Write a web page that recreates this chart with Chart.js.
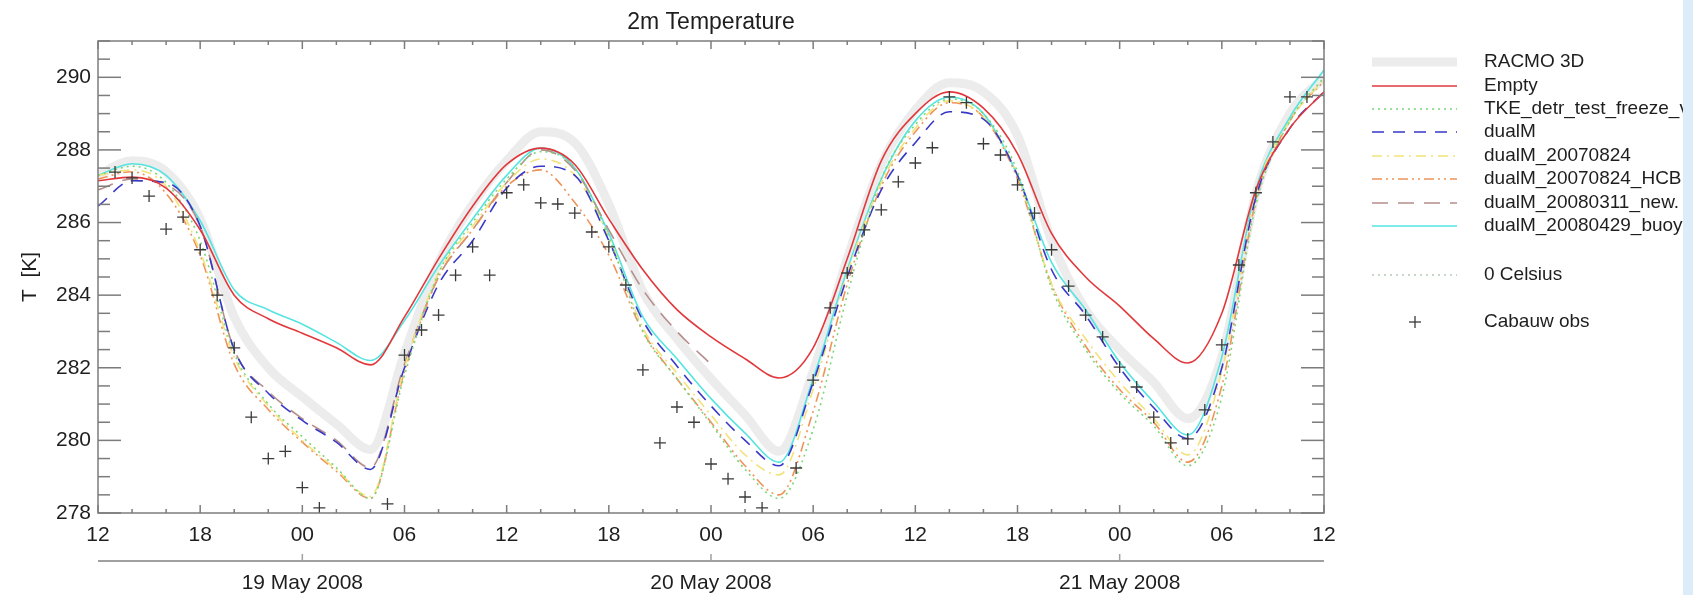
<!DOCTYPE html>
<html>
<head>
<meta charset="utf-8">
<title>2m Temperature</title>
<script src="https://cdn.jsdelivr.net/npm/chart.js@4.4.1/dist/chart.umd.min.js"></script>
<style>
  html, body { margin: 0; padding: 0; background: #fff; }
  #wrap { position: relative; width: 1693px; height: 595px; }
</style>
</head>
<body>
<div id="wrap"><canvas id="t2m"></canvas></div>
<script>
// ============================================================
// 2m temperature, Cabauw 18-21 May 2008 : runs vs observations
// ============================================================

// ── Time axis (hours since 18 May 12 UTC) ──
const hours = [0, 2, 4, 6, 8, 10, 12, 14, 16, 18, 20, 22, 24, 26, 28, 30, 32, 34, 36,
  38, 40, 42, 44, 46, 48, 50, 52, 54, 56, 58, 60, 62, 64, 66, 68, 70, 72];
const hourTicks = ['12', '18', '00', '06', '12', '18', '00', '06', '12', '18', '00', '06', '12'];
const dateHours = [12, 36, 60];
const dateLabels = ['19 May 2008', '20 May 2008', '21 May 2008'];

// ── Model runs, T2m [K] ──
const racmo3d = [287.3, 287.7, 287.4, 286.1, 283.4, 282.0, 281.2, 280.45, 279.75, 282.4, 284.9, 286.5,
  287.7, 288.5, 288.2, 286.5, 284.1, 282.8, 281.7, 280.7, 279.7, 281.9, 285.0, 287.6,
  289.1, 289.85, 289.6, 288.4, 285.5, 283.6, 282.5, 281.6, 280.6, 282.3, 286.8, 289.0, 290.0];
const empty = [287.15, 287.25, 286.95, 285.8, 284.0, 283.35, 282.95, 282.55, 282.08, 283.4, 285.0, 286.45,
  287.6, 288.05, 287.6, 286.1, 284.7, 283.6, 282.85, 282.25, 281.72, 282.55, 285.0, 287.7,
  289.0, 289.6, 289.15, 287.9, 285.7, 284.5, 283.7, 282.8, 282.13, 283.5, 286.9, 288.6, 289.6];
const tkeFreeze = [287.3, 287.55, 287.1, 285.5, 282.4, 281.0, 280.1, 279.25, 278.4, 281.8, 284.6, 286.0,
  287.2, 287.95, 287.5, 285.6, 283.0, 281.7, 280.45, 279.2, 278.4, 280.3, 284.0, 287.2,
  288.7, 289.4, 289.0, 287.4, 284.2, 282.5, 281.3, 280.4, 279.3, 281.2, 286.5, 288.8, 290.0];
const dualM = [286.45, 287.15, 287.1, 285.9, 282.5, 281.3, 280.55, 279.95, 279.2, 282.0, 284.3, 285.5,
  286.95, 287.55, 287.3, 285.5, 283.3, 282.05, 280.95, 280.0, 279.3, 281.6, 284.5, 286.9,
  288.2, 289.05, 288.85, 287.3, 284.7, 283.45, 282.0, 280.9, 280.05, 282.0, 286.7, 288.6, 289.6];
const dualM0824 = [287.3, 287.45, 287.0, 285.2, 282.3, 280.95, 280.0, 279.2, 278.45, 282.0, 284.6, 285.9,
  287.1, 287.75, 287.3, 285.6, 283.1, 281.85, 280.7, 279.6, 279.05, 281.4, 284.6, 287.1,
  288.6, 289.35, 288.9, 287.3, 284.3, 282.8, 281.6, 280.6, 279.6, 281.9, 286.8, 288.8, 289.95];
const dualM0824hcb = [287.2, 287.4, 286.8, 285.1, 282.1, 280.85, 279.95, 279.15, 278.4, 281.9, 284.5, 285.8,
  287.0, 287.45, 286.55, 285.1, 283.0, 281.7, 280.5, 279.3, 278.5, 280.8, 284.3, 287.0,
  288.5, 289.3, 288.9, 287.2, 284.3, 282.6, 281.4, 280.5, 279.4, 281.5, 286.6, 288.8, 289.9];
const dualM0311 = [286.9, 287.2, 287.05, 285.9, 282.5, 281.35, 280.6, 280.0, 279.25, 282.1, 284.5, 285.8,
  287.1, 288.0, 287.45, 285.8, 284.15, 283.0, 282.1, null, null, null, null, null,
  null, null, null, null, null, null, null, null, null, null, null, null, null];
const dualM0429 = [287.3, 287.62, 287.3, 286.05, 284.15, 283.6, 283.2, 282.7, 282.2, 283.3, 284.8, 286.1,
  287.3, 288.05, 287.5, 285.7, 283.4, 282.25, 281.15, 280.2, 279.4, 281.7, 284.7, 287.2,
  288.8, 289.45, 289.0, 287.3, 284.9, 283.6, 282.15, 281.05, 280.15, 282.3, 286.9, 288.9, 290.2];
const zeroCelsius = 273.15;

// ── Cabauw hourly observations ──
const obsHours = [1, 2, 3, 4, 5, 6, 7, 8, 9, 10, 11, 12, 13, 17, 18, 19, 20, 21, 22, 23, 24,
  25, 26, 27, 28, 29, 30, 31, 32, 33, 34, 35, 36, 37, 38, 39, 41, 42, 43, 44, 45, 46, 47, 48,
  49, 50, 51, 52, 53, 54, 55, 56, 57, 58, 59, 60, 61, 62, 63, 64, 65, 66, 67, 68, 69, 70, 71];
const obsTemp = [287.39, 287.23, 286.73, 285.82, 286.15, 285.25, 284.0, 282.55, 280.64, 279.5, 279.7, 278.7, 278.14,
  278.25, 282.35, 283.04, 283.45, 284.55, 285.33, 284.55, 286.82,
  287.04, 286.54, 286.51, 286.26, 285.74, 285.33, 284.28, 281.94, 279.93, 280.92, 280.5, 279.35, 278.94, 278.44, 278.14,
  279.24, 281.66, 283.65, 284.61, 285.8, 286.35, 287.12, 287.64,
  288.06, 289.46, 289.3, 288.17, 287.86, 287.04, 286.26, 285.25, 284.25, 283.45, 282.85, 282.02, 281.47, 280.64,
  279.93, 280.04, 280.84, 282.63, 284.83, 286.82, 288.22, 289.46, 289.46];

// ── Styles ──
const FONT = '"Liberation Sans", Arial, Helvetica, sans-serif';
const INK = '#1e1e1e';
const AXIS = '#7c7c7c';
Chart.defaults.font.family = FONT;

const runs = [
  { label: 'RACMO 3D', values: racmo3d, color: '#ececec', width: 9, dash: [], order: 9 },
  { label: 'Empty', values: empty, color: '#e2383c', width: 1.6, dash: [] },
  { label: 'TKE_detr_test_freeze_v', values: tkeFreeze, color: '#78d878', width: 1.6, dash: [2, 4] },
  { label: 'dualM', values: dualM, color: '#3838c8', width: 1.6, dash: [12, 9] },
  { label: 'dualM_20070824', values: dualM0824, color: '#f2e27a', width: 1.6, dash: [10, 5, 2, 5] },
  { label: 'dualM_20070824_HCB', values: dualM0824hcb, color: '#f0935a', width: 1.6, dash: [10, 4, 2, 4, 2, 4] },
  { label: 'dualM_20080311_new.', values: dualM0311, color: '#b58e8c', width: 1.6, dash: [16, 10] },
  { label: 'dualM_20080429_buoy', values: dualM0429, color: '#55e4e0', width: 1.6, dash: [] },
];

const toPoints = (xs, ys) => xs.map((h, i) => ({ x: h, y: ys[i] }));

const datasets = runs.map(r => ({
  label: r.label,
  data: toPoints(hours, r.values),
  borderColor: r.color,
  borderWidth: r.width,
  borderDash: r.dash,
  pointRadius: 0,
  fill: false,
  cubicInterpolationMode: 'monotone',
  order: r.order || 0,
}));

datasets.push({
  label: '0 Celsius',
  data: toPoints([0, 72], [zeroCelsius, zeroCelsius]),
  borderColor: '#c9d6c9', borderWidth: 2, borderDash: [2, 4],
  pointRadius: 0, fill: false, order: 1,
});

datasets.push({
  label: 'Cabauw obs',
  data: toPoints(obsHours, obsTemp),
  showLine: false,
  pointStyle: 'cross',
  pointRadius: 6,
  borderColor: '#3a3a3a',
  borderWidth: 1.3,
  order: -1,
});

// ── Frame, inward ticks, date axis, legend ──
function seg(ctx, x1, y1, x2, y2) {
  ctx.beginPath(); ctx.moveTo(x1, y1); ctx.lineTo(x2, y2); ctx.stroke();
}

const plotDecor = {
  id: 'plotDecor',
  afterDraw(chart) {
    const { ctx, chartArea: a, scales: { x, y } } = chart;
    ctx.save();

    // box + inward ticks
    ctx.strokeStyle = AXIS;
    ctx.lineWidth = 1.5;
    ctx.strokeRect(a.left, a.top, a.right - a.left, a.bottom - a.top);
    for (let h = x.min; h <= x.max; h += 2) {
      const px = x.getPixelForValue(h);
      const len = h % 6 === 0 ? 8 : 4;
      seg(ctx, px, a.bottom, px, a.bottom - len);
      seg(ctx, px, a.top, px, a.top + len);
    }
    for (let t = y.min; t <= y.max; t += 0.5) {
      const py = y.getPixelForValue(t);
      const len = t % 2 === 0 ? 23 : 12;
      seg(ctx, a.left, py, a.left + len, py);
      seg(ctx, a.right, py, a.right - len, py);
    }

    // date axis under the hour labels
    const dateY = 561;
    ctx.strokeStyle = '#a0a0a0';
    ctx.lineWidth = 2;
    seg(ctx, a.left, dateY, a.right, dateY);
    ctx.fillStyle = INK;
    ctx.font = `21px ${FONT}`;
    ctx.textAlign = 'center';
    ctx.textBaseline = 'middle';
    dateHours.forEach((h, i) => {
      const px = x.getPixelForValue(h);
      ctx.lineWidth = 1.5;
      seg(ctx, px, dateY, px, dateY - 7);
      ctx.fillText(dateLabels[i], px, 583);
    });

    // title + y label
    ctx.font = `23px ${FONT}`;
    ctx.fillText('2m Temperature', (a.left + a.right) / 2, 23);
    ctx.save();
    ctx.translate(30, (a.top + a.bottom) / 2);
    ctx.rotate(-Math.PI / 2);
    ctx.font = `21px ${FONT}`;
    ctx.fillText('T  [K]', 0, 0);
    ctx.restore();

    // legend
    const lx0 = 1372, lx1 = 1457, tx = 1484;
    const rows = [62, 86, 109, 132, 156, 179, 203, 226];
    ctx.font = `19px ${FONT}`;
    ctx.textAlign = 'left';
    runs.forEach((r, i) => {
      ctx.strokeStyle = r.color;
      ctx.lineWidth = r.width;
      ctx.setLineDash(r.dash);
      seg(ctx, lx0, rows[i], lx1, rows[i]);
      ctx.setLineDash([]);
      ctx.fillStyle = INK;
      ctx.fillText(r.label, tx, rows[i]);
    });
    const zc = datasets[runs.length];
    ctx.strokeStyle = zc.borderColor;
    ctx.lineWidth = 2;
    ctx.setLineDash(zc.borderDash);
    seg(ctx, lx0, 275, lx1, 275);
    ctx.setLineDash([]);
    ctx.fillText('0 Celsius', tx, 275);
    // obs marker
    ctx.strokeStyle = '#3a3a3a';
    ctx.lineWidth = 1.3;
    seg(ctx, 1409, 322, 1421, 322);
    seg(ctx, 1415, 316, 1415, 328);
    ctx.fillText('Cabauw obs', tx, 322);

    // pale strip along the right edge
    ctx.fillStyle = '#dcecf8';
    ctx.fillRect(1683, 0, chart.width - 1683, chart.height);

    ctx.restore();
  }
};

new Chart(document.getElementById('t2m'), {
  type: 'line',
  data: { datasets },
  options: {
    responsive: true,
    maintainAspectRatio: false,
    animation: false,
    layout: { padding: { top: 41, right: 369, left: 0, bottom: 0 } },
    plugins: {
      legend: { display: false },
      tooltip: { enabled: false },
    },
    scales: {
      x: {
        type: 'linear',
        min: 0,
        max: 72,
        afterFit: s => { s.height = 82; },
        grid: { display: false, drawTicks: false },
        border: { display: false },
        ticks: {
          stepSize: 6, autoSkip: false, maxRotation: 0, padding: 10,
          color: INK, font: { size: 21 },
          callback: v => hourTicks[Math.round(v / 6)],
        },
      },
      y: {
        min: 278,
        max: 291,
        afterFit: s => { s.width = 98; },
        grid: { display: false, drawTicks: false },
        border: { display: false },
        ticks: {
          stepSize: 2, padding: 7,
          color: INK, font: { size: 21 },
          callback: v => (v % 2 === 0 ? String(v) : ''),
        },
      },
    },
  },
  plugins: [plotDecor],
});
</script>
</body>
</html>
